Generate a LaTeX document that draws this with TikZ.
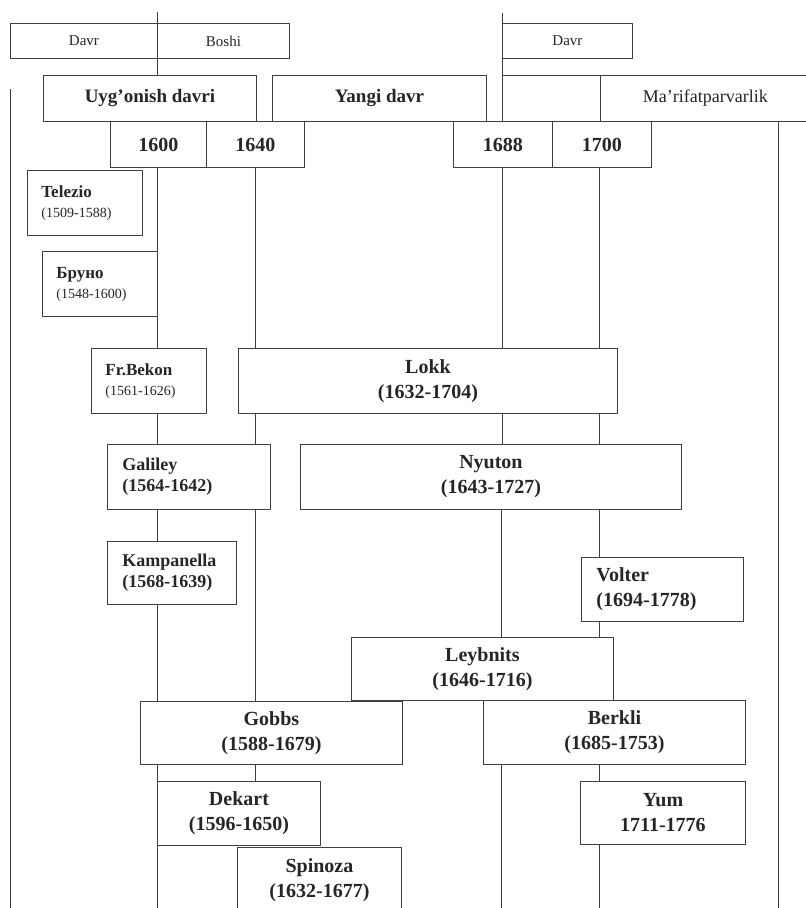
\documentclass[tikz,border=0pt]{standalone}
\usepackage{fontspec}
\setmainfont{Liberation Serif}
\usepackage{tikz}
\usetikzlibrary{positioning,calc}

\newcommand{\sdate}[1]{{\mdseries\fontsize{14}{16}\selectfont #1}}

\begin{document}
\begin{tikzpicture}[
    x=1pt, y=-1pt,
    cell/.style={rectangle, draw=black!75, line width=0.9pt, anchor=north west, inner sep=0pt, align=center, text=black!85},
    headbox/.style={cell, minimum height=35pt, font=\fontsize{15}{18}\selectfont},
    erabox/.style={cell, minimum height=46pt, font=\bfseries\fontsize{19}{22}\selectfont},
    yearbox/.style={cell, minimum height=46pt, font=\bfseries\fontsize{20}{24}\selectfont},
    smallbox/.style={cell, align=left, inner xsep=14pt, minimum width=115pt, text width=87pt, minimum height=65pt, font=\bfseries\fontsize{17}{20}\selectfont},
    midbox/.style={cell, align=left, inner xsep=15pt, font=\bfseries\fontsize{18}{21}\selectfont},
    bigbox/.style={cell, font=\bfseries\fontsize{20}{25}\selectfont},
    tline/.style={draw=black!75, line width=0.9pt}
]
    \useasboundingbox (0,0) rectangle (806,908);
    \fill[white] (0,0) rectangle (806,908);

    % header
    \node [headbox, minimum width=147pt] (davrA) at (10,23) {Davr};
    \node [headbox, minimum width=132pt] (boshi) at (157,23) {Boshi};
    \node [headbox, minimum width=130pt] (davrB) at (502,23) {Davr};

    % periods
    \node [erabox, minimum width=213pt] (uyg) at (43,75) {Uyg'onish davri};
    \node [erabox, minimum width=214pt] (yangi) at (272,75) {Yangi davr};
    \node [cell, minimum width=98pt, minimum height=46pt] (bosh) at (502,75) {};
    \node [cell, minimum width=210pt, minimum height=46pt, font=\fontsize{18}{22}\selectfont] (marif) at (600,75) {Ma'rifatparvarlik};

    % years
    \node [yearbox, minimum width=96pt] (y1600) at (110,121) {1600};
    \node [yearbox, minimum width=98pt] (y1640) at (206,121) {1640};
    \node [yearbox, minimum width=99pt] (y1688) at (453,121) {1688};
    \node [yearbox, minimum width=99pt] (y1700) at (552,121) {1700};

    % philosophers
    \node [smallbox] (telezio) at (27,170) {Telezio\\\sdate{(1509-1588)}};
    \node [smallbox] (bruno) at (42,251) {Бруно\\\sdate{(1548-1600)}};
    \node [smallbox] (bekon) at (91,348) {Fr.Bekon\\\sdate{(1561-1626)}};
    \node [bigbox, minimum width=379pt, minimum height=65pt] (lokk) at (238,348) {Lokk\\(1632-1704)};
    \node [midbox, minimum width=163pt, text width=133pt, minimum height=65pt] (galiley) at (107,444) {Galiley\\(1564-1642)};
    \node [bigbox, minimum width=381pt, minimum height=65pt] (nyuton) at (300,444) {Nyuton\\(1643-1727)};
    \node [midbox, minimum width=129pt, text width=99pt, minimum height=63pt] (kamp) at (107,541) {Kampanella\\(1568-1639)};
    \node [midbox, minimum width=162pt, text width=132pt, minimum height=64pt, font=\bfseries\fontsize{20}{25}\selectfont] (volter) at (581,557) {Volter\\(1694-1778)};
    \node [bigbox, minimum width=262pt, minimum height=63pt] (leyb) at (351,637) {Leybnits\\(1646-1716)};
    \node [bigbox, minimum width=262pt, minimum height=63pt] (gobbs) at (140,701) {Gobbs\\(1588-1679)};
    \node [bigbox, minimum width=262pt, minimum height=64pt] (berkli) at (483,700) {Berkli\\(1685-1753)};
    \node [bigbox, minimum width=163pt, minimum height=64pt] (dekart) at (157,781) {Dekart\\(1596-1650)};
    \node [bigbox, minimum width=165pt, minimum height=63pt] (yum) at (580,781) {Yum\\1711-1776};
    \node [bigbox, minimum width=164pt, minimum height=66pt] (spinoza) at (237,847) {Spinoza\\(1632-1677)};

    % timelines
    \coordinate (edgeL) at (10,89);
    \coordinate (edgeLb) at (10,908);
    \coordinate (colA) at (157,12);
    \coordinate (colAb) at (157,908);
    \coordinate (colB) at (255,0);
    \coordinate (colC) at (502,13);
    \coordinate (colCb) at (501,908);
    \coordinate (colD) at (599,0);
    \coordinate (colDb) at (599,908);
    \coordinate (colE) at (778,0);
    \coordinate (colEb) at (778,908);

    \draw [tline] (edgeL) -- (edgeLb);

    \draw [tline] (colA) -- (colA |- boshi.north);
    \draw [tline] (colA |- boshi.south) -- (colA |- uyg.north);
    \draw [tline] (colA |- y1600.south) -- (colA |- bekon.north);
    \draw [tline] (colA |- bekon.south) -- (colA |- galiley.north);
    \draw [tline] (colA |- galiley.south) -- (colA |- kamp.north);
    \draw [tline] (colA |- kamp.south) -- (colA |- gobbs.north);
    \draw [tline] (colA |- gobbs.south) -- (dekart.north west);
    \draw [tline] (dekart.south west) -- (colAb);

    \draw [tline] (colB |- y1640.south) -- (colB |- lokk.north);
    \draw [tline] (colB |- lokk.south) -- (colB |- galiley.north);
    \draw [tline] (colB |- galiley.south) -- (colB |- gobbs.north);
    \draw [tline] (colB |- gobbs.south) -- (colB |- dekart.north);

    \draw [tline] (colC) -- (davrB.north west);
    \draw [tline] (davrB.south west) -- (bosh.north west);
    \draw [tline] (colC |- y1688.south) -- (colC |- lokk.north);
    \draw [tline] (colC |- lokk.south) -- (colC |- nyuton.north);
    \draw [tline] (colCb |- nyuton.south) -- (colCb |- leyb.north);
    \draw [tline] (colCb |- berkli.south) -- (colCb);

    \draw [tline] (colD |- y1700.south) -- (colD |- lokk.north);
    \draw [tline] (colD |- lokk.south) -- (colD |- nyuton.north);
    \draw [tline] (colD |- nyuton.south) -- (colD |- volter.north);
    \draw [tline] (colD |- volter.south) -- (colD |- leyb.north);
    \draw [tline] (colD |- berkli.south) -- (colD |- yum.north);
    \draw [tline] (colD |- yum.south) -- (colDb);

    \draw [tline] (colE |- marif.south) -- (colEb);
\end{tikzpicture}
\end{document}
